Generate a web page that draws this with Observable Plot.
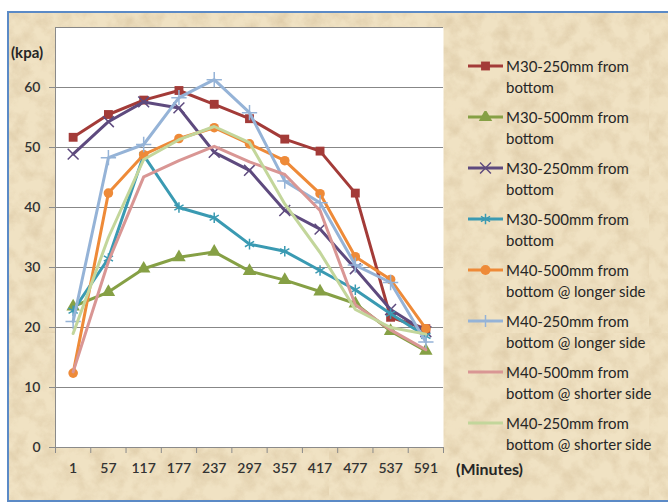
<!DOCTYPE html>
<html><head><meta charset="utf-8">
<script src="https://cdn.jsdelivr.net/npm/d3@7"></script>
<script src="https://cdn.jsdelivr.net/npm/@observablehq/plot@0.6"></script>
<style>
html,body{margin:0;padding:0;background:#fff;}
#page{position:relative;width:668px;height:504px;overflow:hidden;font-family:Lato,"Open Sans",sans-serif;color:#262626;}
#frame{position:absolute;left:7px;top:11px;width:680px;bottom:2px;border:2px solid #5B8AC6;border-right:none;background-color:#F0E2C3;}
#chart{position:absolute;left:0;top:0;}
.lbl{position:absolute;font-weight:bold;white-space:nowrap;}
#legend{position:absolute;left:468px;top:56px;}
.entry{position:relative;height:51px;}
.entry svg{position:absolute;left:0;top:4px;}
.entry div{position:absolute;left:38px;top:0;font-size:15px;line-height:20.5px;white-space:nowrap;}
</style></head>
<body><div id="page"><div id="frame"></div><div id="chart"></div>
<div class="lbl" style="left:11px;top:43px;font-size:15px;">(kpa)</div>
<div class="lbl" style="left:456px;top:459px;font-size:16px;">(Minutes)</div>
<div id="legend"></div></div>
<script>
const categories = [1, 57, 117, 177, 237, 297, 357, 417, 477, 537, 591];
const seriesNames = [
  "M30-250mm from bottom",
  "M30-500mm from bottom",
  "M30-250mm from bottom",
  "M30-500mm from bottom",
  "M40-500mm from bottom @ longer side",
  "M40-250mm from bottom @ longer side",
  "M40-500mm from bottom @ shorter side",
  "M40-250mm from bottom @ shorter side"
];
const legendLine1 = ["M30-250mm from","M30-500mm from","M30-250mm from","M30-500mm from","M40-500mm from","M40-250mm from","M40-500mm from","M40-250mm from"];
const legendLine2 = ["bottom","bottom","bottom","bottom","bottom @ longer side","bottom @ longer side","bottom @ shorter side","bottom @ shorter side"];
const m30_250_a = [51.7, 55.5, 57.9, 59.5, 57.2, 54.8, 51.4, 49.4, 42.4, 21.7, 19.8];
const m30_500_a = [23.5, 25.9, 29.8, 31.7, 32.6, 29.4, 27.9, 26.0, 24.0, 19.4, 16.1];
const m30_250_b = [48.9, 54.3, 57.6, 56.6, 49.2, 46.2, 39.5, 36.4, 29.8, 23.0, 19.3];
const m30_500_b = [22.8, 31.5, 48.7, 40.0, 38.3, 33.9, 32.7, 29.5, 26.3, 22.3, 18.6];
const m40_500_long = [12.4, 42.4, 48.8, 51.5, 53.3, 50.6, 47.8, 42.3, 31.8, 28.0, 19.8];
const m40_250_long = [21.0, 48.3, 50.5, 58.3, 61.3, 55.8, 44.4, 40.8, 30.4, 27.5, 17.6];
const m40_500_short = [12.6, 31.0, 45.1, 47.8, 50.2, 47.6, 45.5, 39.5, 23.8, 19.6, 16.3];
const m40_250_short = [19.0, 35.0, 48.0, 51.3, 53.5, 50.8, 40.6, 32.5, 23.0, 20.0, 18.9];
const yTicks = [0, 10, 20, 30, 40, 50, 60];
const yGrid = [10, 20, 30, 40, 50, 60, 70];

const seriesValues = [m30_250_a, m30_500_a, m30_250_b, m30_500_b, m40_500_long, m40_250_long, m40_500_short, m40_250_short];
const colors = ["#A33B38", "#86A045", "#5E4A7E", "#3A9AB2", "#EE8A38", "#95B3D7", "#D99694", "#C3D69B"];
const symbols = ["square", "triangle", "times", "asterisk", "circle", "plus", null, null];
const filled = [true, true, false, false, true, false, false, false];

const series = seriesValues.map((vals, k) => vals.map((v, i) => ({i, v, k})));
const idx = d3.range(categories.length);
const bounds = d3.range(-0.5, categories.length, 1);

const marks = [
  Plot.frame({fill: "white", stroke: null}),
  Plot.gridY(yGrid, {stroke: "#878787", strokeOpacity: 1}),
  Plot.ruleX([-0.5], {stroke: "#8a8a8a"}),
  Plot.ruleY([0], {stroke: "#8a8a8a"}),
  Plot.axisY({ticks: yTicks, tickSize: 6, tickPadding: 9, stroke: "#8a8a8a", fill: "#333", fontSize: 14, fontWeight: 600, label: null}),
  Plot.axisX({ticks: idx, tickFormat: i => categories[i], tickSize: 0, tickPadding: 16, fill: "#333", fontSize: 14, fontWeight: 600, label: null}),
  Plot.axisX({ticks: bounds, tickFormat: () => "", tickSize: 6, stroke: "#8a8a8a", label: null})
];
series.forEach((d, k) => {
  marks.push(Plot.line(d, {x: "i", y: "v", stroke: colors[k], strokeWidth: 3, strokeLinejoin: "round"}));
  if (symbols[k]) {
    marks.push(Plot.dot(d, filled[k]
      ? {x: "i", y: "v", symbol: symbols[k], fill: colors[k], stroke: null, r: symbols[k] === "circle" ? 4.8 : 5}
      : {x: "i", y: "v", symbol: symbols[k], stroke: colors[k], fill: "none", strokeWidth: 1.5, r: 5}));
  }
});

const chart = Plot.plot({
  width: 668, height: 504,
  marginLeft: 55, marginRight: 225, marginTop: 27, marginBottom: 57,
  style: {background: "transparent", fontFamily: "Lato, 'Open Sans', sans-serif", color: "#333"},
  x: {type: "linear", domain: [-0.5, categories.length - 0.5], axis: null},
  y: {domain: [0, 70], axis: null},
  marks
});
document.getElementById("chart").appendChild(chart);

// legend
const legend = d3.select("#legend");
seriesNames.forEach((name, k) => {
  const e = legend.append("div").attr("class", "entry");
  const s = e.append("svg").attr("width", 36).attr("height", 12);
  s.append("line").attr("x1", 0).attr("x2", 35).attr("y1", 6).attr("y2", 6)
    .attr("stroke", colors[k]).attr("stroke-width", 3);
  if (symbols[k]) {
    const typeMap = {square: d3.symbolSquare, triangle: d3.symbolTriangle, times: d3.symbolTimes, asterisk: d3.symbolAsterisk, circle: d3.symbolCircle, plus: d3.symbolPlus};
    const p = s.append("path").attr("transform", "translate(17.5,6)")
      .attr("d", d3.symbol(typeMap[symbols[k]], 25 * Math.PI)());
    if (filled[k]) p.attr("fill", colors[k]);
    else p.attr("fill", "none").attr("stroke", colors[k]).attr("stroke-width", 1.5);
  }
  e.append("div").html(legendLine1[k] + "<br>" + legendLine2[k]);
});

// parchment texture (subtle)
const noise = "<svg xmlns='http://www.w3.org/2000/svg' width='320' height='320'><filter id='f'><feTurbulence type='fractalNoise' baseFrequency='0.06' numOctaves='5' seed='7'/><feColorMatrix values='0 0 0 0 0.66  0 0 0 0 0.52  0 0 0 0 0.32  1.1 0 0 0 -0.42'/></filter><rect width='100%' height='100%' filter='url(%23f)'/></svg>";
document.getElementById("frame").style.backgroundImage = "url(\"data:image/svg+xml;utf8," + noise.replace(/#/g, "%23") + "\")";
</script>
</body></html>
